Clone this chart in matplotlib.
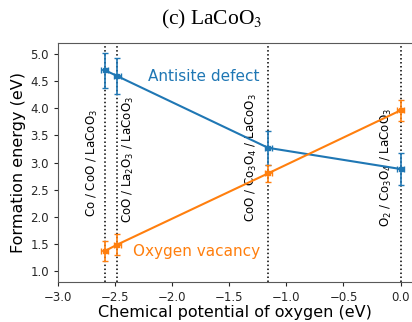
import matplotlib
matplotlib.use("Agg")
import matplotlib.pyplot as plt

# chemical potential of oxygen at each phase boundary (eV)
mu_o = [-2.59, -2.48, -1.16, 0.0]
boundary_labels = [
    "Co / CoO / LaCoO$_3$",
    "CoO / La$_2$O$_3$ / LaCoO$_3$",
    "CoO / Co$_3$O$_4$ / LaCoO$_3$",
    "O$_2$ / Co$_3$O$_4$ / LaCoO$_3$",
]

# formation energies (eV) and their uncertainties
antisite = [4.70, 4.59, 3.27, 2.88]
antisite_err = [0.32, 0.33, 0.31, 0.30]
vacancy = [1.37, 1.49, 2.80, 3.96]
vacancy_err = [0.19, 0.19, 0.15, 0.19]
mu_err = [0.03, 0.03, 0.03, 0.03]

BLUE = "#1f77b4"
ORANGE = "#ff7f0e"

fig = plt.figure(figsize=(4.12, 3.22), dpi=100)
ax = fig.add_axes([58 / 412, 1 - 282 / 322, 354 / 412, 239 / 322])

for x in mu_o:
    ax.axvline(x, color="black", linestyle=(0, (1, 1.6)), linewidth=1.1, zorder=1)

ax.errorbar(mu_o, antisite, yerr=antisite_err, xerr=mu_err, color=BLUE,
            marker="s", markersize=2.5, linewidth=1.5, elinewidth=1.2,
            capsize=2.5, zorder=3)
ax.errorbar(mu_o, vacancy, yerr=vacancy_err, xerr=mu_err, color=ORANGE,
            marker="s", markersize=2.5, linewidth=1.5, elinewidth=1.2,
            capsize=2.5, zorder=3)

ax.text(-2.21, 4.59, "Antisite defect", color=BLUE, fontsize=11,
        ha="left", va="center")
ax.text(-2.34, 1.37, "Oxygen vacancy", color=ORANGE, fontsize=11,
        ha="left", va="center")

# phase boundary names beside each dotted line
label_x = [-2.70, -2.385, -1.305, -0.12]
label_y = [2.0, 1.89, 1.91, 1.81]
for x, y, s in zip(label_x, label_y, boundary_labels):
    ax.text(x, y, s, rotation=90, fontsize=8.5, ha="center", va="bottom")

ax.set_xlim(-3.0, 0.1)
ax.set_ylim(0.8, 5.2)
ax.set_xticks([-3.0, -2.5, -2.0, -1.5, -1.0, -0.5, 0.0])
ax.set_yticks([1.0, 1.5, 2.0, 2.5, 3.0, 3.5, 4.0, 4.5, 5.0])
ax.tick_params(labelsize=8.5, length=3, width=0.8, colors="0.15")
ax.set_xlabel("Chemical potential of oxygen (eV)", fontsize=11.5, labelpad=0.5)
ax.set_ylabel("Formation energy (eV)", fontsize=11.5, labelpad=3)
for side in ["top", "right", "left", "bottom"]:
    ax.spines[side].set_color("0.35")
ax.spines["right"].set_visible(False)

fig.text(212 / 412, 1 - 19 / 322, "(c) LaCoO$_3$", fontsize=15.5,
         family="Liberation Serif", math_fontfamily="stix",
         ha="center", va="center")

fig.savefig("out.png", dpi=100)
